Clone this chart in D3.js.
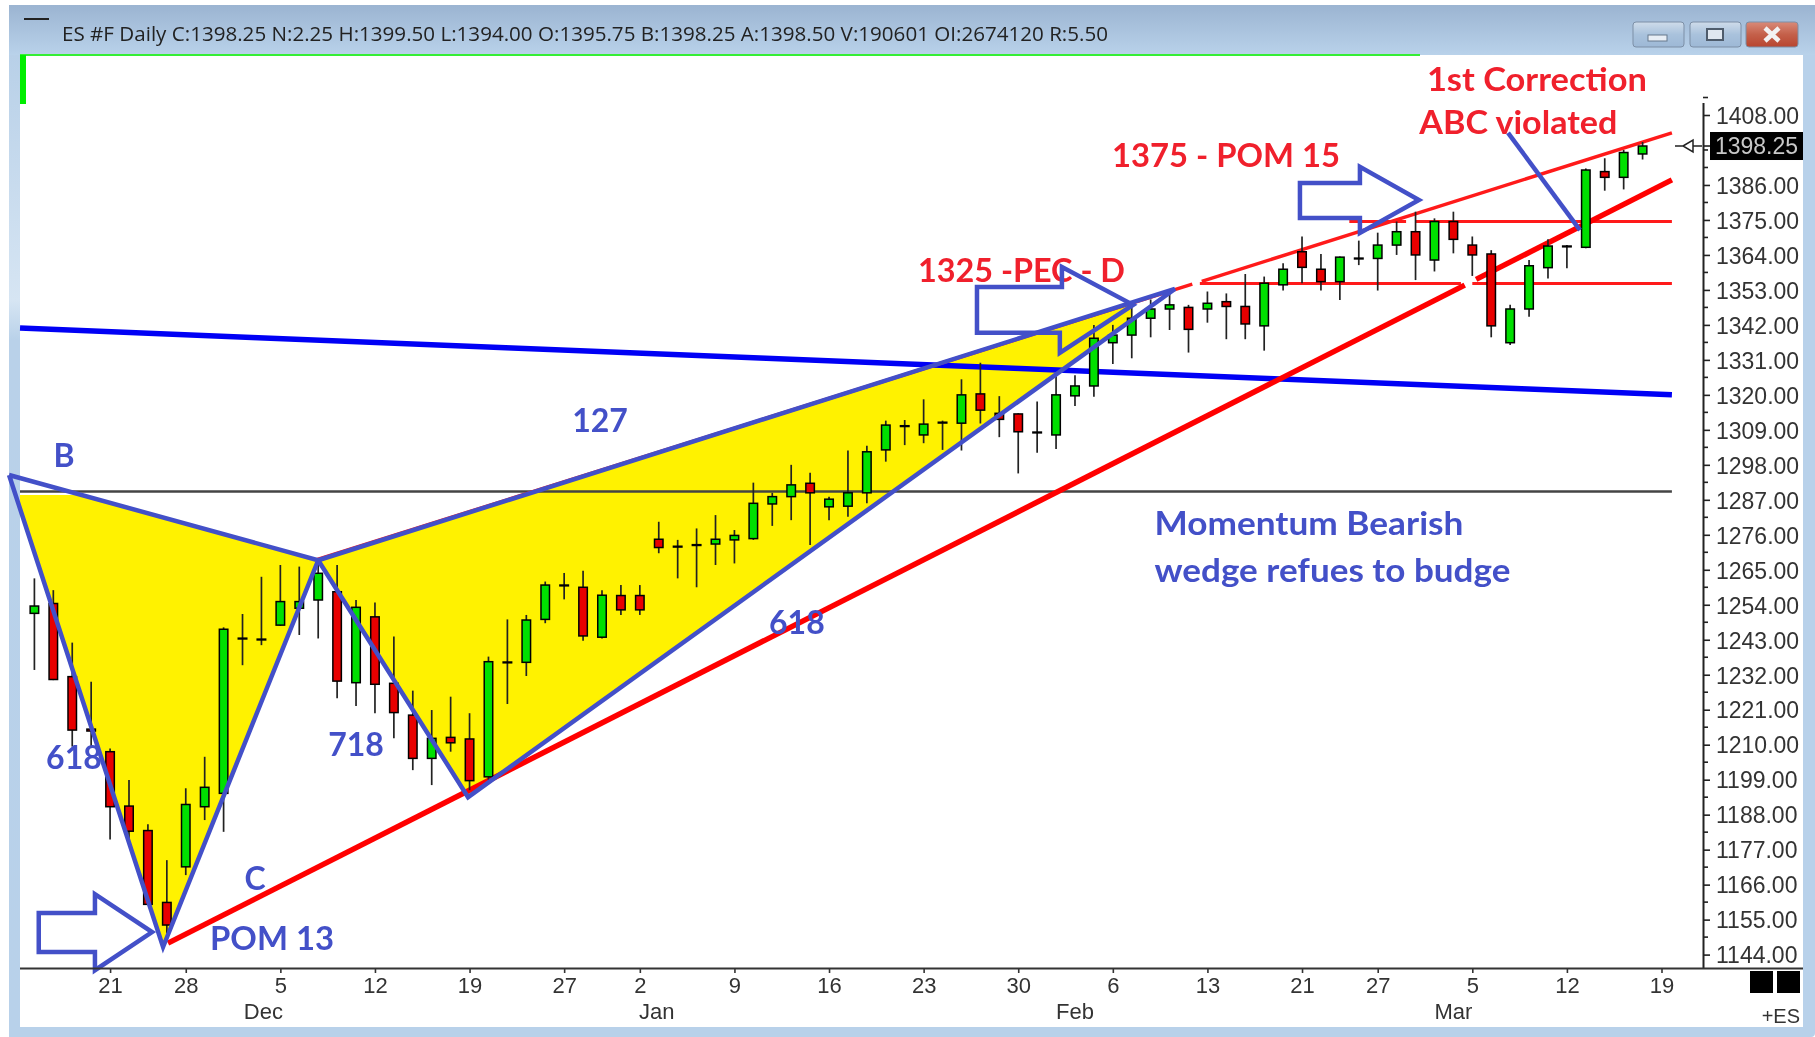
<!DOCTYPE html>
<html><head><meta charset="utf-8">
<script src="https://d3js.org/d3.v7.min.js"></script>
<style>
html,body{margin:0;padding:0;background:#fff;overflow:hidden}
svg{display:block;filter:blur(0.55px)}
</style></head><body>
<svg id="c" width="1815" height="1037"></svg>
<script>
// ---- chart values ----
const titleText = "ES #F Daily C:1398.25 N:2.25 H:1399.50 L:1394.00 O:1395.75 B:1398.25 A:1398.50 V:190601 OI:2674120 R:5.50";
const opens = [1251.3,1254.4,1231.4,1214.9,1207.8,1190.7,1183,1160.4,1171.6,1190.5,1194.7,1243.5,1243.2,1247.6,1252.9,1255.5,1258.1,1229.5,1250.2,1229.3,1219.3,1205.7,1212.3,1211.8,1199.9,1236,1235.9,1249.4,1260.2,1259.5,1243.8,1256.9,1256.9,1274.6,1272.4,1272.9,1273.1,1274.4,1274.8,1285.7,1288,1292.2,1284.8,1285,1289.2,1302.7,1310.3,1307.4,1311.4,1311.1,1320.3,1314.2,1314,1308.3,1307.4,1319.7,1322.8,1336.4,1338.8,1344.1,1347,1347.5,1347,1349.3,1347.8,1341.7,1354.6,1365,1359.5,1355.6,1363,1362.9,1367.1,1371.3,1362.4,1374.5,1367.1,1364.3,1336.4,1347,1360,1366.8,1366.4,1390.2,1388.4,1395.75];
const highs = [1262.3,1258.6,1242.1,1229.8,1208.8,1198.9,1185,1173.7,1196.3,1206.2,1246.9,1251.1,1262.8,1266.5,1266,1267.5,1266.5,1255.5,1254.7,1244,1227,1220.9,1225.1,1219.9,1237.7,1249.4,1250.8,1261.3,1264,1264.7,1258.6,1260.2,1260.2,1280.1,1274.4,1278,1282.2,1277.5,1292.4,1289.2,1298,1295.5,1288,1302.5,1304,1311.9,1312.1,1318.6,1311.9,1324.9,1330.1,1319.6,1314.2,1317.9,1326.2,1326.2,1342,1342,1348,1350,1352.5,1348.3,1352.5,1351.9,1358,1357.2,1361.4,1369.8,1364.3,1363.5,1368.5,1371,1374.5,1377.6,1375.5,1377.6,1369.8,1365.5,1348.3,1362.4,1368.9,1367.1,1391.2,1394.4,1397,1399.5];
const lows = [1233.5,1230.3,1209.4,1209,1180.2,1179.5,1159.6,1150.7,1169,1186.3,1182.6,1235,1241.3,1247.4,1244.5,1243.4,1224.6,1222.2,1219.9,1212,1202,1197.3,1207.8,1195.7,1198.9,1222.8,1231.6,1248.2,1255.7,1242.7,1243.4,1250.8,1250.8,1270.2,1262.3,1259.5,1266.5,1267,1274.4,1278.8,1280.6,1272.8,1280.6,1281.7,1285.9,1299,1304.2,1304.8,1302.7,1302.5,1311,1306.7,1295.3,1301.8,1303,1316.5,1319.4,1329.7,1331.5,1338.1,1340.4,1333.3,1342.7,1337.5,1337.5,1333.9,1352.8,1355.1,1352.8,1349.8,1360.8,1352.8,1364,1356.1,1358.8,1364.5,1357.4,1338.1,1335.7,1344.6,1356.6,1359.8,1366.1,1384.2,1384.6,1394];
const closes = [1253.6,1230.5,1214.6,1214.3,1190.5,1182.8,1159.8,1153.3,1191.2,1196.6,1246.3,1243.5,1243.2,1255,1255,1263.9,1230,1253.2,1229,1220.1,1205.7,1212,1210.6,1198.7,1236.1,1236,1249.2,1260.2,1260.2,1244.2,1257,1252.4,1252.4,1272,1272.4,1272.9,1274.6,1275.8,1285.9,1288,1291.7,1289.2,1287.2,1289.2,1302.1,1310.5,1310.3,1310.8,1311.4,1320,1315.2,1312.3,1308.4,1308.3,1320,1322.8,1337.8,1338.8,1344.1,1347,1348.3,1340.6,1348.8,1347.8,1342.3,1355.1,1359.5,1360.1,1355.6,1363.3,1363,1367.1,1371.3,1364,1374.5,1368.9,1364,1341.7,1347,1360.6,1366.8,1366.8,1390.7,1388.4,1396.2,1398.25];

const dayIndex = [4,8,13,18,23,28,32,37,42,47,52,57,62,67,71,76,81,86];
const dayLabels = ["21","28","5","12","19","27","2","9","16","23","30","6","13","21","27","5","12","19"];
const monthIndex = [12.1,32.9,55,75];
const monthLabels = ["Dec","Jan","Feb","Mar"];
const priceTicks = [1408,1386,1375,1364,1353,1342,1331,1320,1309,1298,1287,1276,1265,1254,1243,1232,1221,1210,1199,1188,1177,1166,1155,1144];
const lastPrice = 1398.25;

// hand-drawn overlays, in [bar index, price]
const patternX = [-1.34,1294.8], patternLow = [6.8,1146.4], patternTop = [15,1268], patternTrough = [22.92,1193.5], patternD = [60.28,1353.3];
const blueLine = [[-0.76,1341],[86.55,1320]];
const greyLevel = 1289.6;
const redThick = [[[7.06,1147.6],[75.6,1354.5]],[[76.2,1356.3],[86.55,1387.6]]];
const redThin = [[[14.88,1268.1],[61.2,1354.8]],[[61.7,1355.7],[86.55,1402.4]]];
const redLevels = [[[69.5,1374.5],[72.5,1374.5]],[[73.0,1374.5],[86.55,1374.5]],[[61.6,1355],[75.4,1355]],[[76.0,1355],[86.55,1355]]];
const arrowA = [[.23,1157.1],[3.2,1157.1],[3.2,1163],[6.22,1151.1],[3.2,1139.1],[3.2,1144.8],[.23,1144.8]];
const arrowB = [[49.82,1353.9],[54.31,1353.9],[54.31,1360.2],[58.07,1348.3],[54.2,1333.2],[54.2,1339.5],[49.82,1339.5]];
const arrowC = [[66.89,1386.6],[70.06,1386.6],[70.06,1391.7],[73.18,1381.3],[70.06,1370.9],[70.06,1375.6],[66.89,1375.6]];
const pointer = [[77.89,1402.4],[81.69,1371.8]];

const notes = ["B","127","618","718","C","POM 13","618","Momentum Bearish","wedge refues to budge","1325 -PEC - D","1375 - POM 15","1st Correction","ABC violated"];

// ---- layout ----
const W=1815,H=1037;
const plot={l:20,t:55,r:1803,b:968,axis:1703};
const x=d3.scaleLinear().domain([0,86]).range([34.4,1661.5]);
const y=d3.scaleLinear().domain([1144,1408]).range([954.6,115]);
const pt=d=>[x(d[0]),y(d[1])];
const lineGen=d3.line().x(d=>x(d[0])).y(d=>y(d[1]));
const svg=d3.select("#c");
const defs=svg.append("defs");
const grad=(id,stops)=>{const g=defs.append("linearGradient").attr("id",id).attr("x1",0).attr("y1",0).attr("x2",0).attr("y2",1);
  stops.forEach(s=>g.append("stop").attr("offset",s[0]).attr("stop-color",s[1]));};
grad("tb",[[0,"#9bb4d1"],[1,"#b9d2ea"]]);
grad("lf",[[0,"#b8d0e8"],[.25,"#d6e5f3"],[.29,"#b9d1e9"],[1,"#b8d1ea"]]);
grad("bt",[[0,"#cfdcea"],[.5,"#a9c2dc"],[1,"#9db8d6"]]);
grad("cl",[[0,"#d98a78"],[.5,"#c4604a"],[1,"#b8452f"]]);

// window frame
svg.append("rect").attr("width",W).attr("height",H).attr("fill","#fff");
svg.append("rect").attr("x",9).attr("y",5).attr("width",W-9).attr("height",H-5).attr("rx",4).attr("fill","#b8d1ea");
svg.append("rect").attr("x",9).attr("y",5).attr("width",W-9).attr("height",50).attr("fill","url(#tb)");
svg.append("rect").attr("x",9).attr("y",55).attr("width",11).attr("height",H-55).attr("fill","url(#lf)");
svg.append("rect").attr("x",plot.l).attr("y",plot.t).attr("width",plot.r-plot.l).attr("height",1027-plot.t).attr("fill","#fff");
svg.append("text").attr("x",62).attr("y",41).attr("font-family","'Open Sans'").attr("font-size",20).attr("fill","#222")
  .attr("textLength",1046).attr("lengthAdjust","spacingAndGlyphs").text(titleText);
svg.append("rect").attr("x",24).attr("y",18).attr("width",25).attr("height",2).attr("fill","#222");
svg.append("rect").attr("x",20).attr("y",54).attr("width",1400).attr("height",2).attr("fill","#35ee35");
svg.append("rect").attr("x",20).attr("y",55).attr("width",6).attr("height",49).attr("fill","#00ee00");

// caption buttons
[[1633,51,"url(#bt)"],[1690,51,"url(#bt)"],[1746,52,"url(#cl)"]].forEach(b=>{
  svg.append("rect").attr("x",b[0]).attr("y",22).attr("width",b[1]).attr("height",25).attr("rx",3).attr("fill",b[2]).attr("stroke","#7c8fa6");
});
svg.append("rect").attr("x",1648).attr("y",35).attr("width",19).attr("height",6).attr("fill","#e8eef5").attr("stroke","#66788c");
svg.append("rect").attr("x",1707).attr("y",29).attr("width",16).attr("height",11).attr("fill","#dfe7f0").attr("stroke","#4e5c6c").attr("stroke-width",2);
svg.append("path").attr("d","M1765 28 L1779 41 M1779 28 L1765 41").attr("stroke","#f2f2f2").attr("stroke-width",4.5);

// yellow wedges
defs.append("clipPath").attr("id","c1").append("rect").attr("x",plot.l).attr("y",495).attr("width",500).attr("height",470);
defs.append("clipPath").attr("id","c2").append("rect").attr("x",plot.l).attr("y",plot.t).attr("width",1111).attr("height",900);
const polyPts=a=>a.map(d=>pt(d).join(",")).join(" ");
svg.append("polygon").attr("points",polyPts([patternX,patternTop,patternLow])).attr("fill","#fff200").attr("clip-path","url(#c1)");
svg.append("polygon").attr("points",polyPts([patternTop,patternTrough,patternD])).attr("fill","#fff200").attr("clip-path","url(#c2)");

// levels and trend lines
svg.append("path").attr("d",lineGen([[x.invert(plot.l),greyLevel],[86.55,greyLevel]])).attr("stroke","#444").attr("stroke-width",2.5).attr("fill","none");
svg.append("path").attr("d",lineGen(blueLine)).attr("stroke","#0000f5").attr("stroke-width",5.5).attr("fill","none");
redLevels.forEach(s=>svg.append("path").attr("d",lineGen(s)).attr("stroke","#ff1a1a").attr("stroke-width",3).attr("fill","none"));
redThick.forEach(s=>svg.append("path").attr("d",lineGen(s)).attr("stroke","#ff0000").attr("stroke-width",5.5).attr("fill","none"));
redThin.forEach(s=>svg.append("path").attr("d",lineGen(s)).attr("stroke","#ff1a1a").attr("stroke-width",3.5).attr("fill","none"));

// candles
const bars=svg.append("g").selectAll("g").data(opens.map((o,i)=>({i,o,h:highs[i],l:lows[i],c:closes[i]}))).join("g");
bars.append("line").attr("x1",d=>x(d.i)).attr("x2",d=>x(d.i)).attr("y1",d=>y(d.h)).attr("y2",d=>y(d.l)).attr("stroke","#222").attr("stroke-width",1.7);
bars.append("rect").attr("x",d=>x(d.i)-4.25).attr("width",8.5)
  .attr("y",d=>y(Math.max(d.o,d.c))).attr("height",d=>Math.max(0.8,Math.abs(y(d.o)-y(d.c))))
  .attr("fill",d=>d.c>d.o?"#00e000":d.c<d.o?"#e80000":"#000").attr("stroke","#000").attr("stroke-width",1.5);

// annotations
const blue="#4350c8";
const red="#f0202c";
const noteCfg=[
 [1.56,1301.4,blue,"middle",32,null],[29.9,1312.1,blue,"middle",32,null],[2.09,1206.4,blue,"middle",32,null],[17.0,1210.5,blue,"middle",32,null],
 [11.66,1168.4,blue,"middle",32,null],[12.56,1149.5,blue,"middle",32,124],[40.3,1248.7,blue,"middle",32,null],
 [59.2,1280,blue,"start",32,309],[59.2,1265.2,blue,"start",32,356],
 [46.7,1359.3,red,"start",32,207],[56.96,1395.7,red,"start",32,228],[73.6,1419.6,red,"start",32,220],[73.2,1405.8,red,"start",32,198]];
notes.forEach((t,k)=>{const c=noteCfg[k];
  const e=svg.append("text").attr("x",x(c[0])).attr("y",y(c[1])).attr("font-family","Lato").attr("font-weight",700).attr("font-size",c[4])
    .attr("text-anchor",c[3]).attr("dominant-baseline","central").attr("fill",c[2]).text(t);
  if(c[5]) e.attr("textLength",c[5]).attr("lengthAdjust","spacingAndGlyphs");
});

// harmonic pattern outline and arrows
[[patternX,patternLow,patternTop,patternX],[patternTop,patternTrough,patternD,patternTop]].forEach(p=>
  svg.append("path").attr("d",lineGen(p)).attr("stroke",blue).attr("stroke-width",4.5).attr("fill","none").attr("stroke-linejoin","miter"));
[arrowA,arrowB,arrowC].forEach(a=>
  svg.append("path").attr("d",lineGen(a)+"Z").attr("stroke",blue).attr("stroke-width",4.5).attr("fill","none"));
svg.append("path").attr("d",lineGen(pointer)).attr("stroke",blue).attr("stroke-width",4.5);

// axes
const font="'Liberation Sans'";
const yAxis=d3.axisRight(y).tickValues(priceTicks).tickSize(7).tickPadding(6).tickFormat(d3.format(".2f"));
const gy=svg.append("g").attr("transform",`translate(${plot.axis},0)`).call(yAxis);
gy.select(".domain").attr("d",`M0.5,103V${plot.b}`).attr("stroke","#222").attr("stroke-width",2);
gy.selectAll(".tick line").attr("stroke","#222").attr("stroke-width",1.6);
gy.selectAll(".tick text").attr("font-family",font).attr("font-size",23).attr("fill","#333").attr("dy","0.36em");
gy.selectAll("line.minor").data(priceTicks.map(v=>v+5.5).concat([1397])).join("line").attr("class","minor")
  .attr("x1",0).attr("x2",5).attr("y1",d=>y(d)).attr("y2",d=>y(d)).attr("stroke","#222").attr("stroke-width",1.6);

const xAxis=d3.axisBottom(x).tickValues(dayIndex).tickSize(5).tickPadding(4).tickFormat((d,i)=>dayLabels[i]);
const gx=svg.append("g").attr("transform",`translate(0,${plot.b})`).call(xAxis);
gx.select(".domain").attr("d",`M${plot.l},0.5H${plot.r}`).attr("stroke","#333").attr("stroke-width",2);
gx.selectAll(".tick line").attr("stroke","#333").attr("stroke-width",1.6);
gx.selectAll(".tick text").attr("font-family",font).attr("font-size",22).attr("fill","#333");
svg.append("g").selectAll("text").data(monthLabels).join("text").attr("x",(d,i)=>x(monthIndex[i])).attr("y",1019)
  .attr("text-anchor","middle").attr("font-family",font).attr("font-size",22).attr("fill","#333").text(d=>d);

// last price flag
const yl=y(lastPrice);
svg.append("rect").attr("x",1710).attr("y",yl-14).attr("width",93).attr("height",28).attr("fill","#000");
svg.append("text").attr("x",1756.5).attr("y",yl).attr("dy","0.36em").attr("text-anchor","middle").attr("font-family",font).attr("font-size",23).attr("fill","#c8c8c8").text(d3.format(".2f")(lastPrice));
svg.append("path").attr("d",`M1675 ${yl}H1683M1683 ${yl}L1693 ${yl-6}V${yl+6}Z M1693 ${yl}H1702`).attr("stroke","#222").attr("stroke-width",1.5).attr("fill","#fff");
svg.append("line").attr("x1",plot.axis).attr("x2",1710).attr("y1",yl).attr("y2",yl).attr("stroke","#222").attr("stroke-width",1.6);

// corner squares
svg.append("rect").attr("x",1750).attr("y",971).attr("width",23).attr("height",22).attr("fill","#000");
svg.append("rect").attr("x",1777).attr("y",971).attr("width",23).attr("height",22).attr("fill","#000");
svg.append("text").attr("x",1800).attr("y",1023).attr("text-anchor","end").attr("font-family",font).attr("font-size",20).attr("fill","#333").text("+ES");
</script>
</body></html>
